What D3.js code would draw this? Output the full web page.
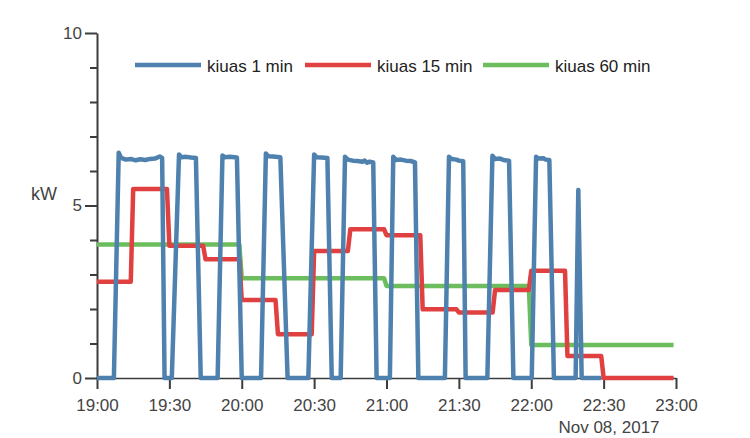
<!DOCTYPE html>
<html>
<head>
<meta charset="utf-8">
<script src="https://cdn.jsdelivr.net/npm/d3@7"></script>
<style>
  html, body { margin: 0; padding: 0; background: #fff; }
  svg { display: block; font-family: "Liberation Sans", Arial, sans-serif; }
</style>
</head>
<body>
<svg id="chart" width="750" height="438"></svg>
<script>
// ---- Data (minutes after 19:00 on Nov 08, 2017) ----
const seriesNames = ["kiuas 1 min", "kiuas 15 min", "kiuas 60 min"];
const seriesColors = ["#4f81ae", "#e0403f", "#6cbd5d"];

// 1-minute series: [minute, kW] points
const blueMinutes = [0,7,9,10,12,14,16,18,20,22,24,26,27,28,
  31,34,35,37,39,41,43,
  50,52,53,55,58,60,
  68,70,71,73,76,79,
  87.6,90,91,93,95.5,97.3,
  101,102.8,104,106,108,110,111,112,113,114.5,115.9,
  121.4,122.8,124,126,128,130,131.8,133.2,
  144.2,145.9,147,149,150,151.8,152.8,
  161.8,163.9,165,167,169,170.8,172.6,
  180.2,182,183,185,186,187.5,189.4,
  198.4,199.5,200.9,209];
const blueValues = [0,0,6.53,6.38,6.33,6.35,6.31,6.34,6.32,6.35,6.36,6.42,6.38,0,
  0,6.48,6.40,6.41,6.39,6.38,0,
  0,6.45,6.40,6.41,6.39,0,
  0,6.51,6.43,6.42,6.40,0,
  0,6.48,6.40,6.39,6.38,0,
  0,6.41,6.33,6.30,6.29,6.27,6.30,6.24,6.27,6.25,0,
  0,6.41,6.32,6.33,6.30,6.29,6.25,0,
  0,6.41,6.35,6.33,6.30,6.28,0,
  0,6.44,6.35,6.36,6.31,6.30,0,
  0,6.41,6.36,6.37,6.33,6.32,0,
  0,5.45,0,0];

// 15-minute averages (one value per quarter hour, 19:00 .. 22:45)
const red15min = [2.79,5.48,3.83,3.44,2.26,1.27,3.68,4.31,4.14,1.99,1.90,2.55,3.11,0.64,0,0];
// 60-minute averages (one value per hour, 19:00 .. 22:00)
const green60min = [3.87,2.89,2.67,0.96];

const xTickLabels = ["19:00","19:30","20:00","20:30","21:00","21:30","22:00","22:30","23:00"];
const yTickValues = [0,1,2,3,4,5,6,7,8,9,10];
const yLabelValues = [0,5,10];
const dateLabel = "Nov 08, 2017";
const yTitle = "kW";

// ---- Build point lists ----
const t0 = new Date(2017, 10, 8, 19, 0, 0);
const toDate = m => new Date(t0.getTime() + m * 60000);

const bluePts = blueMinutes.map((m, i) => ({t: toDate(m), v: blueValues[i]}));
function stepPoints(values, len) {
  const pts = [];
  values.forEach((v, k) => {
    pts.push({t: toDate(k * len), v});
    pts.push({t: toDate(k * len + len - 1), v});
  });
  return pts;
}
const redPts = stepPoints(red15min, 15);
const greenPts = stepPoints(green60min, 60);

// ---- Scales ----
const svg = d3.select("#chart");
const x = d3.scaleTime().domain([t0, toDate(240)]).range([97, 676]);
const y = d3.scaleLinear().domain([0, 10]).range([378, 33]);

const axisColor = "#3c3c3c";
const textColor = "#444";

// ---- X axis ----
const xAxis = d3.axisBottom(x)
  .tickValues(xTickLabels.map((_, i) => toDate(i * 30)))
  .tickFormat((d, i) => xTickLabels[i])
  .tickSize(11).tickPadding(10).tickSizeOuter(0);
const gx = svg.append("g").attr("transform", "translate(0,378)").call(xAxis);
gx.select(".domain").attr("stroke", axisColor).attr("stroke-width", 1.5);
gx.selectAll(".tick line").attr("stroke", axisColor).attr("stroke-width", 2);
gx.selectAll(".tick text").attr("fill", textColor).attr("font-size", 17)
  .attr("font-family", "Liberation Sans, Arial, sans-serif");

svg.append("text").attr("x", 609).attr("y", 433).attr("text-anchor", "middle")
  .attr("fill", textColor).attr("font-size", 17).text(dateLabel);

// ---- Y axis ----
const yAxis = d3.axisLeft(y).tickValues(yTickValues)
  .tickFormat(d => yLabelValues.includes(d) ? d : "")
  .tickSize(7).tickPadding(4).tickSizeOuter(0);
const gy = svg.append("g").attr("transform", "translate(97,0)").call(yAxis);
gy.select(".domain").attr("stroke", axisColor).attr("stroke-width", 2);
gy.selectAll(".tick line").attr("stroke", axisColor).attr("stroke-width", 2)
  .attr("x2", d => yLabelValues.includes(d) ? -12 : -7);
gy.selectAll(".tick text").attr("fill", textColor).attr("font-size", 17)
  .attr("x", -15).attr("font-family", "Liberation Sans, Arial, sans-serif");

svg.append("text").attr("x", 31).attr("y", 200).attr("fill", textColor)
  .attr("font-size", 18).text(yTitle);

// ---- Lines ----
const line = d3.line().x(d => x(d.t)).y(d => y(d.v));
[[greenPts, 2], [redPts, 1], [bluePts, 0]].forEach(([pts, i]) => {
  svg.append("path").datum(pts).attr("d", line)
    .attr("fill", "none").attr("stroke", seriesColors[i])
    .attr("stroke-width", 4.5).attr("stroke-linejoin", "round");
});

// ---- Legend ----
const legendX = [135, 305, 483];
seriesNames.forEach((name, i) => {
  const g = svg.append("g").attr("transform", `translate(${legendX[i]},65)`);
  g.append("line").attr("x1", 0).attr("x2", 66).attr("y1", 0).attr("y2", 0)
    .attr("stroke", seriesColors[i]).attr("stroke-width", 4.5);
  g.append("text").attr("x", 72).attr("y", 6.5).attr("fill", "#222")
    .attr("font-size", 17).text(name);
});
</script>
</body>
</html>
